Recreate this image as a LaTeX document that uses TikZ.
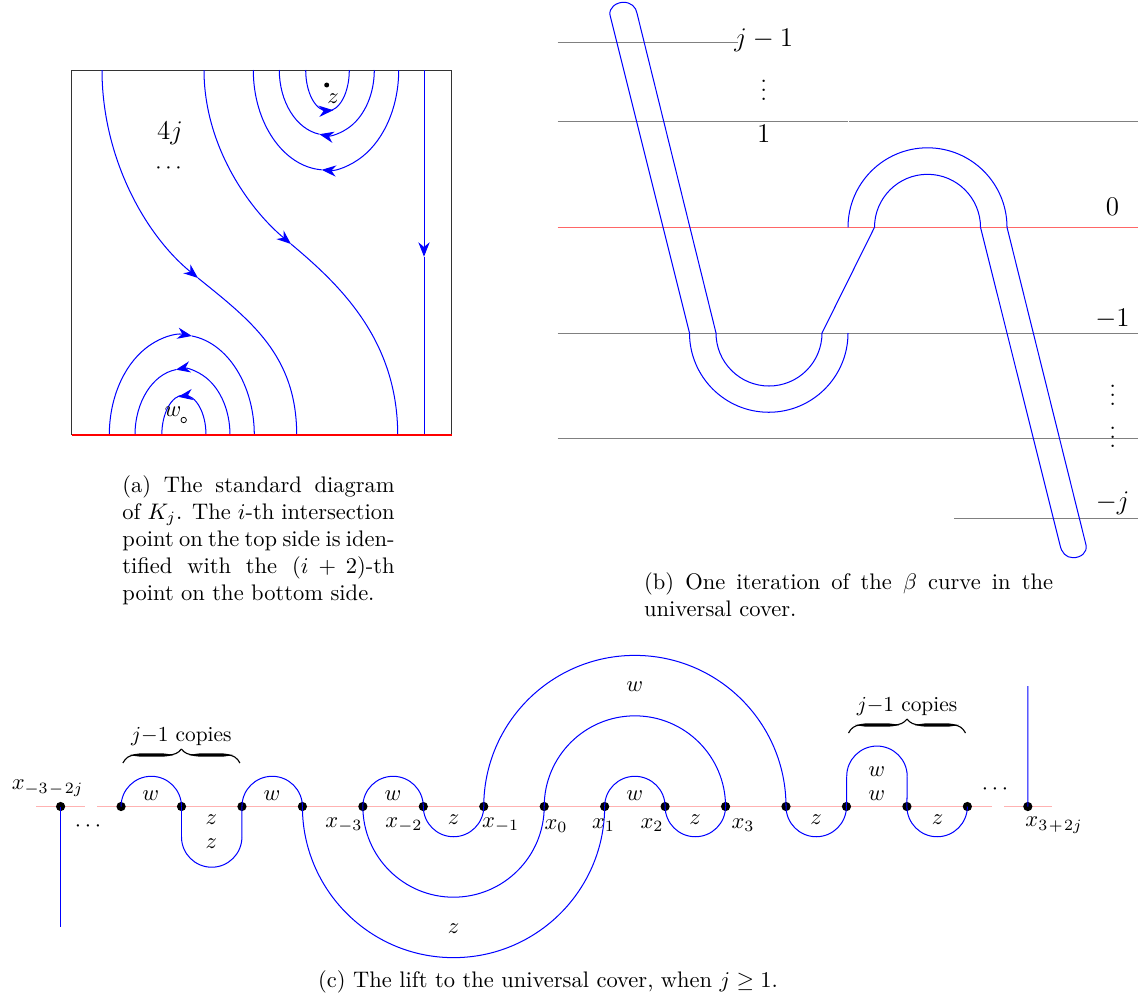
\documentclass[tikz,border=0pt]{standalone}
\usetikzlibrary{arrows.meta,calc}
\newcommand{\uu}{0.4444pt}
\tikzset{
  x=\uu,y=-\uu,
  curve/.style={blue,line width=0.45pt},
  arrowed/.style={curve,-{Stealth[length=6.4pt,width=5pt]}},
  level/.style={gray,line width=0.4pt},
  lift/.style={red!30,line width=0.85pt},
  pt/.style={circle,fill=black,inner sep=0pt,minimum size=4.1pt},
  lab/.style={inner sep=0pt},
  over/.style={to path={let \p1=(\tikztostart),\p2=(\tikztotarget),\n1={(\x2-\x1)/2} in arc[start angle=180,end angle=0,radius=\n1]}},
  under/.style={to path={let \p1=(\tikztostart),\p2=(\tikztotarget),\n1={(\x2-\x1)/2} in arc[start angle=180,end angle=360,radius=\n1]}},
  captext/.style={inner sep=0pt,anchor=north west,align=justify}
}
\begin{document}
\begin{tikzpicture}
\useasboundingbox (0,0) rectangle (1138,997);
% ---------- panel (a)
\draw[black!80,line width=0.4pt] (71.7,435) -- (71.7,70) -- (451.7,70) -- (451.7,435);
\draw[arrowed] (102,70) .. controls (102,155) and (143,233) .. (198,278) coordinate (s1);
\draw[curve] (s1) .. controls (250,320) and (296.7,355) .. (296.7,435);
\draw[arrowed] (204,70) .. controls (204,145) and (248,208) .. (291,244) coordinate (s2);
\draw[curve] (s2) .. controls (340,285) and (397.7,340) .. (397.7,435);
\draw[arrowed] (424,70) -- (424,256.7) coordinate (s3);
\draw[curve] (s3) -- (424,435);
% bottom loops
\draw[arrowed] (109.3,435) arc[start angle=180,end angle=82,x radius=72.5*\uu,y radius=100*\uu] coordinate (b1);
\draw[curve] (b1) arc[start angle=82,end angle=0,x radius=72.5*\uu,y radius=100*\uu];
\draw[arrowed] (230,435) arc[start angle=0,end angle=98,x radius=47.5*\uu,y radius=66*\uu] coordinate (b2);
\draw[curve] (b2) arc[start angle=98,end angle=180,x radius=47.5*\uu,y radius=66*\uu];
\draw[curve] (206,435) arc[start angle=0,end angle=180,x radius=22.1*\uu,y radius=40*\uu];
\draw[arrowed] (187,395.4) -- (178.3,396.8);
% top loops
\draw[curve] (305.7,70) arc[start angle=180,end angle=360,x radius=21.8*\uu,y radius=41*\uu];
\draw[arrowed] (324,110.9) -- (333.3,110.2);
\draw[arrowed] (374.3,70) arc[start angle=360,end angle=261,x radius=47.5*\uu,y radius=65*\uu] coordinate (t2);
\draw[curve] (t2) arc[start angle=261,end angle=180,x radius=47.5*\uu,y radius=65*\uu];
\draw[arrowed] (398.7,70) arc[start angle=360,end angle=266.6,x radius=72.7*\uu,y radius=100*\uu] coordinate (t3);
\draw[curve] (t3) arc[start angle=266.6,end angle=180,x radius=72.7*\uu,y radius=100*\uu];
\draw[red,line width=0.7pt] (71.7,435) -- (451.7,435);
\node[circle,fill=black,inner sep=0pt,minimum size=2.2pt] (zdot) at (326.7,85) {};
\node[lab] (zl) at (333,99) {$z$};
\node[lab] (fj) at (170,133) {\large $4j$};
\node[lab] (cd) at (168.5,168) {$\cdots$};
\node[lab] (wl) at (173,412) {$w$};
\node[circle,draw=black,line width=0.35pt,inner sep=0pt,minimum size=2.4pt] (wdot) at (183.7,420) {};
\node[captext,text width=121pt] (capa) at (122,475) {(a) The standard diagram\linebreak of $K_j$. The $i$-th intersection\linebreak point on the top side is iden-\linebreak tified with the $(i+2)$-th\linebreak point on the bottom side.};
% ---------- panel (b)
\draw[level] (557.5,42) -- (737.5,42);
\draw[level] (557.5,121.6) -- (848,121.6);
\draw[level] (849,121.6) -- (1138,121.6);
\draw[red!60,line width=0.4pt] (557.5,227.3) -- (1138,227.3);
\draw[level] (557.5,333.3) -- (1138,333.3);
\draw[level] (557.5,438.7) -- (1138,438.7);
\draw[level] (954,518.3) -- (1138,518.3);
\draw[curve] (716,333) -- (637,13.3) .. controls (636,7) and (631,2.3) .. (623.5,2.3)
  .. controls (616,2.3) and (608.7,8) .. (610,15) -- (689.5,333);
\draw[curve] (689.5,333) arc[start angle=180,end angle=360,radius=79.25*\uu];
\draw[curve] (716,333) arc[start angle=180,end angle=360,radius=53*\uu];
\draw[curve] (822,333) -- (874.5,227.3);
\draw[curve] (848,227.3) arc[start angle=180,end angle=0,radius=79.5*\uu];
\draw[curve] (874.5,227.3) arc[start angle=180,end angle=0,radius=53*\uu];
\draw[curve] (980.5,227.3) -- (1060,545) .. controls (1061.5,552.5) and (1066,557.7) .. (1073,557.7)
  .. controls (1081,557.7) and (1087.5,552.5) .. (1086,545) -- (1007,227.3);
\node[lab] (jm) at (763.8,40) {\large $j-1$};
\node[lab] (vd1) at (763.7,84) {$\vdots$};
\node[lab] (one) at (763.7,134) {\large $1$};
\node[lab] (zero) at (1112.5,207) {\large $0$};
\node[lab] (mone) at (1112.5,319) {\large $-1$};
\node[lab] (vd2) at (1112.7,389) {$\vdots$};
\node[lab] (vd3) at (1112.7,431) {$\vdots$};
\node[lab] (mj) at (1112.5,503) {\large $-j$};
\node[captext,text width=181.7pt] (capb) at (643.7,572.5) {(b) One iteration of the $\beta$ curve in the universal cover.};
% ---------- panel (c)
\draw[lift] (36,806.5) -- (85,806.5);
\draw[lift] (97,806.5) -- (992,806.5);
\draw[lift] (1004,806.5) -- (1052,806.5);
\foreach \i in {0,...,16} {
  \node[pt] (p\i) at ({60.6+60.45*\i},806.5) {};
}
\coordinate (p2d) at (181.5,837);
\coordinate (p3d) at (241.9,837);
\coordinate (p13u) at (846.7,776.3);
\coordinate (p14u) at (907.2,776.3);
\coordinate (lowend) at (60.6,927.3);
\coordinate (topend) at (1027.8,686);
\begin{scope}[curve]
\draw (p0.center) -- (lowend);
\draw (p16.center) -- (topend);
\draw (p1.center) to[over] (p2.center);
\draw (p2.center) -- (p2d);
\draw (p2d) to[under] (p3d);
\draw (p3d) -- (p3.center);
\draw (p3.center) to[over] (p4.center);
\draw (p4.center) to[under] (p9.center);
\draw (p5.center) to[under] (p8.center);
\draw (p5.center) to[over] (p6.center);
\draw (p6.center) to[under] (p7.center);
\draw (p7.center) to[over] (p12.center);
\draw (p8.center) to[over] (p11.center);
\draw (p9.center) to[over] (p10.center);
\draw (p10.center) to[under] (p11.center);
\draw (p12.center) to[under] (p13.center);
\draw (p13.center) -- (p13u);
\draw (p13u) to[over] (p14u);
\draw (p14u) -- (p14.center);
\draw (p14.center) to[under] (p15.center);
\end{scope}
\foreach \n/\a/\b/\t in {
  a1/150.7/796/w, a2/272/796/w, a3/393/796/w, a4/634.6/796/w, a5/634.6/687/w,
  a6/876.8/772/w, a7/876.8/796/w,
  b1/211.4/820/z, b2/211.4/844/z, b3/453.6/820/z, b4/453.6/928.7/z,
  b5/695/820/z, b6/816/820/z, b7/937.5/820/z,
  c1/47.5/788/x_{-3\mkern1.5mu-\mkern1.5mu2j}, c2/344/825/x_{-3}, c3/404/825/x_{-2}, c4/500.7/825/x_{-1},
  c5/556/826/x_0, c6/603.6/825/x_1, c7/652/825/x_2, c8/743/825/x_3, c9/1054/825/x_{3\mkern1.5mu+\mkern1.5mu2j},
  d1/88/826/\cdots, d2/995/789/\cdots} {
  \node[lab] (\n) at (\a,\b) {$\t$};
}
\foreach \cx/\cy in {181.4/763, 907/733} {
  \foreach \s in {-1,1} {
    \begin{scope}[shift={(\cx,\cy)},xscale=\s,black]
      \draw[line width=0.5pt] (58.5,0) .. controls (56,-5) and (52,-8) .. (46,-8);
      \draw[line width=0.5pt] (14,-8) .. controls (7,-8) and (3,-10) .. (0,-14);
      \fill (52,-8) .. controls (47,-8.4) and (45,-9.7) .. (41,-9.7) -- (19,-9.7)
        .. controls (15,-9.7) and (13,-8.6) .. (8,-8.2) -- (8,-7.8)
        .. controls (13,-7.2) and (15,-6.3) .. (19,-6.3) -- (41,-6.3)
        .. controls (45,-6.3) and (47,-7.6) .. (52,-8) -- cycle;
    \end{scope}
  }
}
\node[lab,scale=0.95] (cp1) at (181.4,736.7) {$j{-}1$ copies};
\node[lab,scale=0.95] (cp2) at (907,706.7) {$j{-}1$ copies};
\node[lab] (capc) at (548,982) {(c) The lift to the universal cover, when $j\geq 1$.};
\end{tikzpicture}
\end{document}
